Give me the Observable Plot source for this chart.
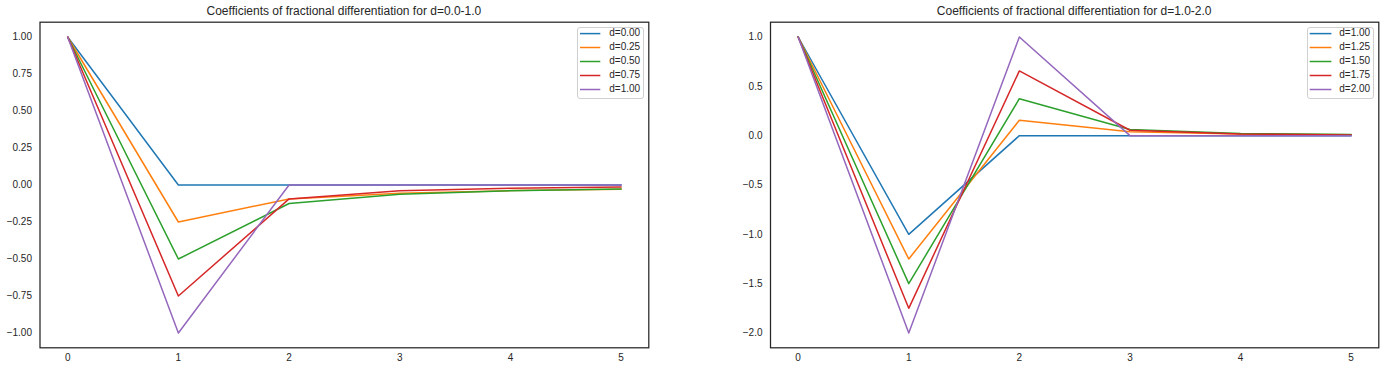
<!DOCTYPE html>
<html>
<head>
<meta charset="utf-8">
<script src="https://cdn.jsdelivr.net/npm/d3@7"></script>
<script src="https://cdn.jsdelivr.net/npm/@observablehq/plot@0.6"></script>
<style>
  html, body { margin: 0; padding: 0; background: #fff; }
  #wrap { position: relative; width: 1385px; height: 370px; font-family: "Liberation Sans", Arial, sans-serif; color: #262626; }
  .panel { position: absolute; top: 0; }
  .title { position: absolute; top: 5.3px; font-size: 12px; line-height: 12px; white-space: nowrap; transform: translateX(-50%); color: #262626; }
  .legend { position: absolute; top: 26.7px; height: 72px; border: 1px solid #d0d0d0; border-radius: 3px; background: rgba(255,255,255,0.8); box-sizing: border-box; }
</style>
</head>
<body>
<div id="wrap"></div>
<script>
// ---- data ----
const steps = [0, 1, 2, 3, 4, 5];

const leftLabels = ["d=0.00", "d=0.25", "d=0.50", "d=0.75", "d=1.00"];
const left_d000 = [1, 0, 0, 0, 0, 0];
const left_d025 = [1, -0.25, -0.094, -0.055, -0.038, -0.028];
const left_d050 = [1, -0.5, -0.125, -0.063, -0.039, -0.027];
const left_d075 = [1, -0.75, -0.094, -0.039, -0.022, -0.014];
const left_d100 = [1, -1, 0, 0, 0, 0];

const rightLabels = ["d=1.00", "d=1.25", "d=1.50", "d=1.75", "d=2.00"];
const right_d100 = [1, -1, 0, 0, 0, 0];
const right_d125 = [1, -1.25, 0.156, 0.039, 0.017, 0.009];
const right_d150 = [1, -1.5, 0.375, 0.063, 0.023, 0.012];
const right_d175 = [1, -1.75, 0.656, 0.055, 0.017, 0.008];
const right_d200 = [1, -2, 1, 0, 0, 0];

const leftTicksY = [-1.0, -0.75, -0.5, -0.25, 0, 0.25, 0.5, 0.75, 1.0];
const rightTicksY = [-2.0, -1.5, -1.0, -0.5, 0, 0.5, 1.0];

const colors = ["#1f77b4", "#ff7f0e", "#2ca02c", "#d62728", "#9467bd"];
const leftTitle = "Coefficients of fractional differentiation for d=0.0-1.0";
const rightTitle = "Coefficients of fractional differentiation for d=1.0-2.0";

// ---- build tables ----
function table(labels, series) {
  const rows = [];
  series.forEach((vals, i) => vals.forEach((v, j) => rows.push({k: steps[j], w: v, s: labels[i]})));
  return rows;
}
const leftData = table(leftLabels, [left_d000, left_d025, left_d050, left_d075, left_d100]);
const rightData = table(rightLabels, [right_d100, right_d125, right_d150, right_d175, right_d200]);

const minus = s => s.replace("-", "\u2212");

function panel({data, labels, yDomain, yTicks, yFmt, width, mL, mR}) {
  return Plot.plot({
    width, height: 370,
    marginLeft: mL, marginRight: mR, marginTop: 21.7, marginBottom: 22.7,
    style: {fontFamily: '"Liberation Sans", Arial, sans-serif', fontSize: "10px", color: "#262626", background: "transparent"},
    x: {domain: [-0.25, 5.25], ticks: steps, tickSize: 0, tickPadding: 6, tickFormat: d => String(d), label: null},
    y: {domain: yDomain, ticks: yTicks, tickSize: 0, tickPadding: 8, tickFormat: d => minus(d3.format(yFmt)(d)), label: null},
    color: {domain: labels, range: colors},
    marks: [
      Plot.line(data, {x: "k", y: "w", z: "s", stroke: "s", strokeWidth: 1.5}),
      Plot.frame({stroke: "#262626", strokeWidth: 1.25})
    ]
  });
}

const wrap = document.getElementById("wrap");

function place(el, left) {
  el.classList.add("panel");
  el.style.left = left + "px";
  wrap.appendChild(el);
}

place(panel({data: leftData, labels: leftLabels, yDomain: [-1.1, 1.1], yTicks: leftTicksY, yFmt: ".2f", width: 692, mL: 39.5, mR: 43.7}), 0);
place(panel({data: rightData, labels: rightLabels, yDomain: [-2.15, 1.15], yTicks: rightTicksY, yFmt: ".1f", width: 693, mL: 78, mR: 6.7}), 692);

function title(text, cx) {
  const d = document.createElement("div");
  d.className = "title";
  d.textContent = text;
  d.style.left = cx + "px";
  wrap.appendChild(d);
}
title(leftTitle, 343.9);
title(rightTitle, 1074.2);

function legend(labels, boxLeft, boxWidth, lineX0, lineX1, textX) {
  const box = document.createElement("div");
  box.className = "legend";
  box.style.left = boxLeft + "px";
  box.style.width = boxWidth + "px";
  wrap.appendChild(box);
  const rowCenters = [33.3, 47.2, 61.2, 75.2, 89.2];
  labels.forEach((lab, i) => {
    const cy = rowCenters[i] - 26.7 - 1;
    const svg = document.createElementNS("http://www.w3.org/2000/svg", "svg");
    svg.setAttribute("width", boxWidth);
    svg.setAttribute("height", 72);
    svg.style.position = "absolute";
    svg.style.left = "0px";
    svg.style.top = "0px";
    const ln = document.createElementNS("http://www.w3.org/2000/svg", "line");
    ln.setAttribute("x1", lineX0 - boxLeft - 1);
    ln.setAttribute("x2", lineX1 - boxLeft - 1);
    ln.setAttribute("y1", cy);
    ln.setAttribute("y2", cy);
    ln.setAttribute("stroke", colors[i]);
    ln.setAttribute("stroke-width", 1.5);
    svg.appendChild(ln);
    box.appendChild(svg);
    const t = document.createElement("div");
    t.textContent = lab;
    t.style.position = "absolute";
    t.style.left = (textX - boxLeft - 1) + "px";
    t.style.top = (cy - 6) + "px";
    t.style.fontSize = "10px";
    t.style.lineHeight = "12px";
    t.style.color = "#262626";
    box.appendChild(t);
  });
}
legend(leftLabels, 576.7, 67, 579.7, 600, 609.3);
legend(rightLabels, 1307.3, 67, 1310, 1331.7, 1339.3);
</script>
</body>
</html>
